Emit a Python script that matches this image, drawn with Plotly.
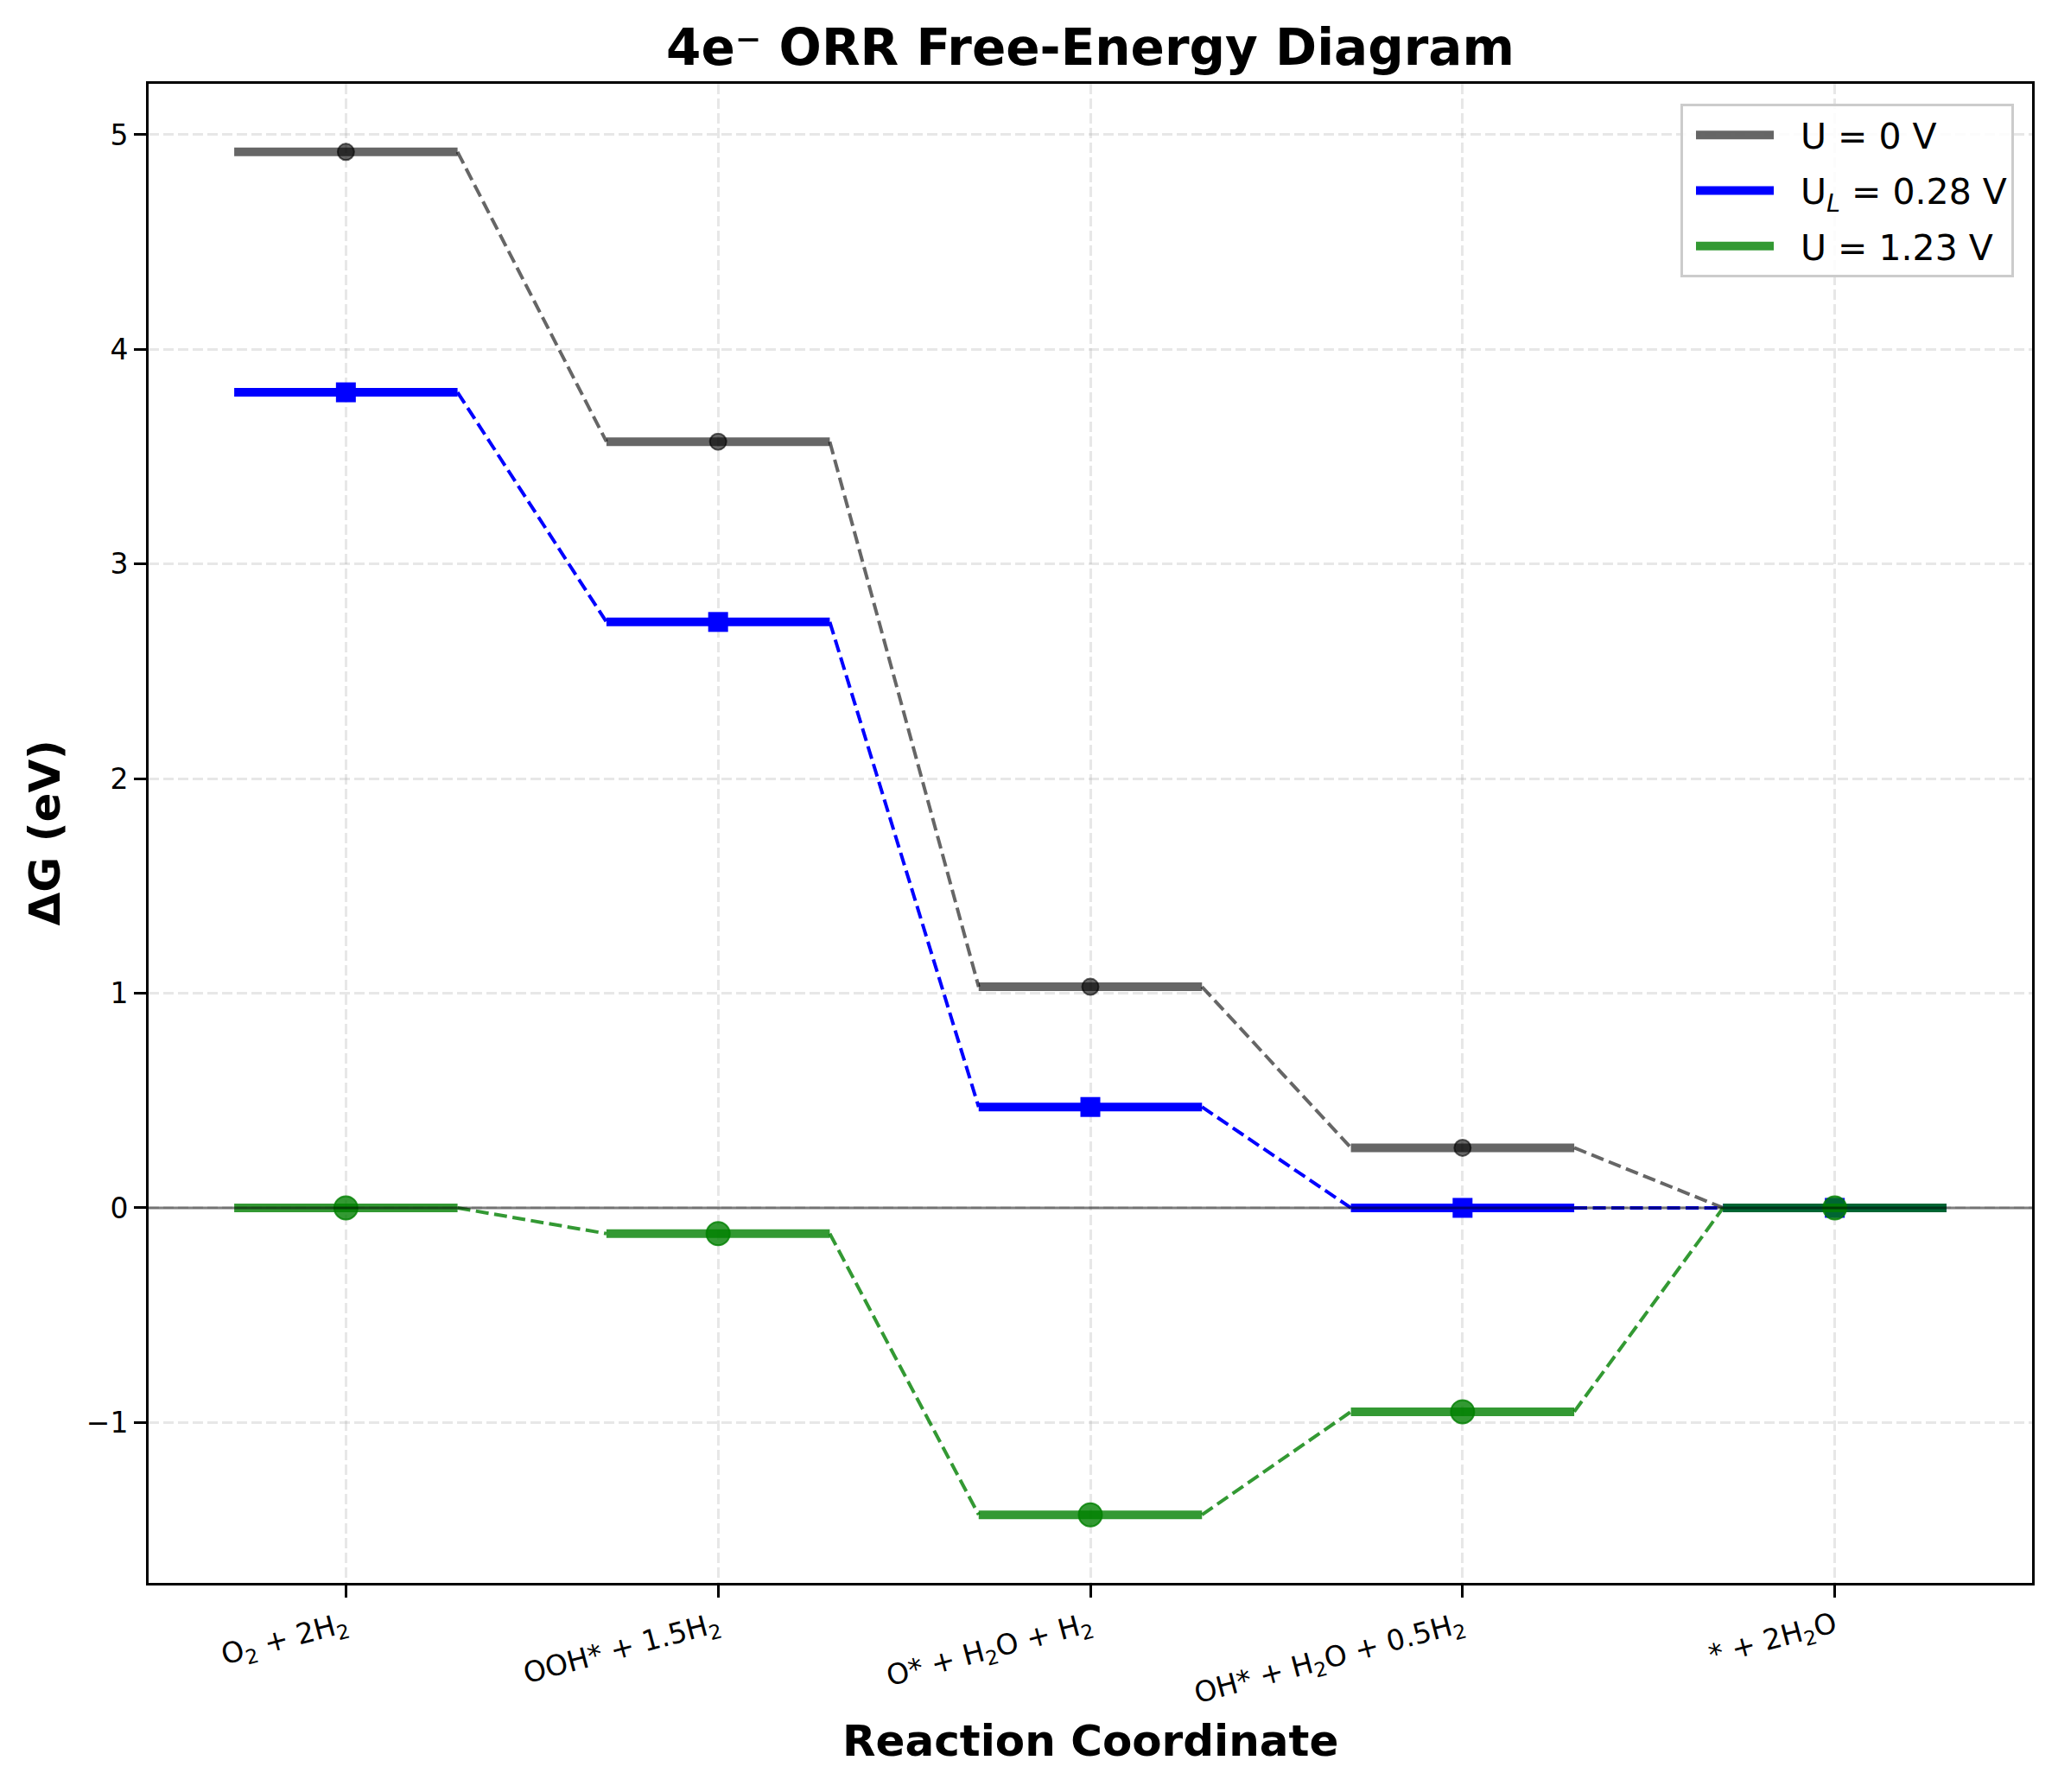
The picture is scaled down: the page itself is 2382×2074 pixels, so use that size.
import plotly.graph_objects as go

# ---- data ----
steps = ["O<sub>2</sub> + 2H<sub>2</sub>",
         "OOH* + 1.5H<sub>2</sub>",
         "O* + H<sub>2</sub>O + H<sub>2</sub>",
         "OH* + H<sub>2</sub>O + 0.5H<sub>2</sub>",
         "* + 2H<sub>2</sub>O"]
g_u0 = [4.92, 3.57, 1.03, 0.28, 0.00]
g_ul = [3.80, 2.73, 0.47, 0.00, 0.00]
g_u123 = [0.00, -0.12, -1.43, -0.95, 0.00]
series_names = ["U = 0 V", "U<sub><i>L</i></sub> = 0.28 V", "U = 1.23 V"]

FONT = "DejaVu Sans"
W, H = 2382, 2074
ML, MR, MT, MB = 172, 30, 97, 242
PW, PH = W - ML - MR, H - MT - MB
HALF = 0.3
NB = "\u00a0\u00a0"

styles = [
    dict(color="rgba(0,0,0,0.6)", symbol="circle", msize=19, mline=2),
    dict(color="rgba(0,0,255,1)", symbol="square", msize=23, mline=0),
    dict(color="rgba(0,128,0,0.8)", symbol="circle", msize=27, mline=2),
]

fig = go.Figure()
xs = list(range(len(steps)))
for k, (vals, name, st) in enumerate(zip([g_u0, g_ul, g_u123], series_names, styles)):
    grp = "g%d" % k
    # connectors
    cx, cy = [], []
    for i in range(len(vals) - 1):
        cx += [xs[i] + HALF, xs[i + 1] - HALF, None]
        cy += [vals[i], vals[i + 1], None]
    fig.add_trace(go.Scatter(x=cx, y=cy, mode="lines", showlegend=False, legendgroup=grp,
                             line=dict(color=st["color"], width=4, dash="15px,6.5px"),
                             hoverinfo="skip"))
    # levels
    lx, ly = [], []
    for i, v in enumerate(vals):
        lx += [xs[i] - HALF, xs[i] + HALF, None]
        ly += [v, v, None]
    fig.add_trace(go.Scatter(x=lx, y=ly, mode="lines", name=NB + name, legendgroup=grp,
                             line=dict(color=st["color"], width=10)))
    # markers
    fig.add_trace(go.Scatter(x=xs, y=vals, mode="markers", showlegend=False, legendgroup=grp,
                             marker=dict(symbol=st["symbol"], size=st["msize"],
                                         color=st["color"],
                                         line=dict(color=st["color"], width=st["mline"]))))

ymin = min(min(g_u0), min(g_ul), min(g_u123))
ymax = max(max(g_u0), max(g_ul), max(g_u123))
ypad = 0.05 * (ymax - ymin)
xmin, xmax = -HALF, len(steps) - 1 + HALF
xpad = 0.05 * (xmax - xmin)

axis_common = dict(showline=True, mirror=True, linecolor="black", linewidth=3,
                   ticks="outside", ticklen=14, tickwidth=3, tickcolor="black",
                   showgrid=True, gridcolor="rgba(176,176,176,0.3)", gridwidth=3,
                   griddash="12px,5px", zeroline=False,
                   tickfont=dict(family=FONT, size=33, color="black"))

fig.update_layout(
    width=W, height=H,
    margin=dict(l=ML, r=MR, t=MT, b=MB),
    paper_bgcolor="white", plot_bgcolor="white",
    font=dict(family=FONT, color="black"),
    title=dict(text="<b>4e⁻ ORR Free-Energy Diagram</b>", x=ML / W + 0.5 * PW / W,
               xanchor="center", y=1 - 55 / H, yanchor="middle", yref="container",
               font=dict(family=FONT, size=58, color="black")),
    xaxis=dict(range=[xmin - xpad, xmax + xpad], tickmode="array",
               tickvals=xs, ticktext=steps, tickangle=-15, **axis_common),
    yaxis=dict(range=[ymin - ypad, ymax + ypad], dtick=1, tick0=0, **axis_common),
    legend=dict(x=(2331 - ML) / PW, y=(H - MB - 120) / PH, xanchor="right", yanchor="top",
                bgcolor="rgba(255,255,255,0.85)", bordercolor="#cccccc", borderwidth=3,
                font=dict(family=FONT, size=41, color="black"),
                itemwidth=90, traceorder="grouped", tracegroupgap=8, indentation=10),
    shapes=[dict(type="line", xref="paper", x0=0, x1=1, yref="y", y0=0, y1=0,
                 line=dict(color="rgba(0,0,0,0.5)", width=3), layer="above")],
    annotations=[
        dict(text="<b>ΔG (eV)</b>", xref="paper", yref="paper",
             x=(51 - ML) / PW, y=0.5, xanchor="center", yanchor="middle",
             textangle=-90, showarrow=False, font=dict(family=FONT, size=50, color="black")),
        dict(text="<b>Reaction Coordinate</b>", xref="paper", yref="paper",
             x=0.5, y=((H - MB) - 2015) / PH, xanchor="center", yanchor="middle",
             showarrow=False, font=dict(family=FONT, size=50, color="black")),
    ],
)

fig.write_html("out.html", config={"displayModeBar": False},
               post_script="document.body.style.margin='0';")
